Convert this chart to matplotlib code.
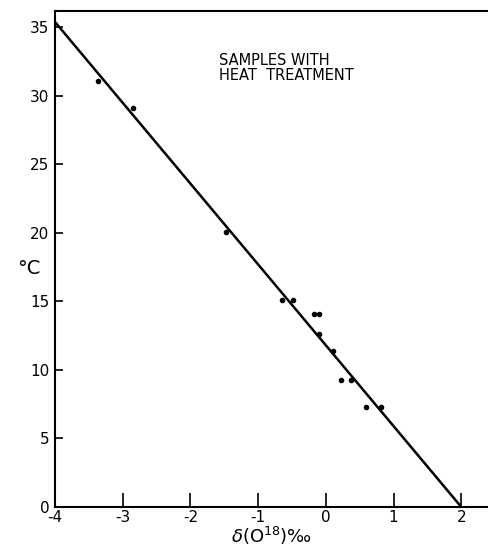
import matplotlib
matplotlib.use('Agg')
import matplotlib.pyplot as plt

# data
d18o = [-3.36, -2.85, -1.47, -0.65, -0.49, -0.18, -0.10, -0.10, 0.10, 0.22, 0.37, 0.59, 0.82]
temp = [31.1, 29.1, 20.1, 15.1, 15.1, 14.05, 14.05, 12.6, 11.4, 9.3, 9.3, 7.3, 7.3]

# fitted line end points
fit_x = [-4.0, 2.0]
fit_y = [35.4, 0.0]

x_ticks = [-4, -3, -2, -1, 0, 1, 2]
y_ticks = [0, 5, 10, 15, 20, 25, 30, 35]

plt.rcParams['axes.unicode_minus'] = False

fig = plt.figure(figsize=(4.89, 5.51), dpi=100)
ax = fig.add_axes([0.1125, 0.08, 0.8875, 0.9])

ax.plot(fit_x, fit_y, color='black', linewidth=1.8)
ax.plot(d18o, temp, 'o', color='black', markersize=3)

ax.set_xlim(-4, 2.41)
ax.set_ylim(0, 36.2)
ax.set_xticks(x_ticks)
ax.set_yticks(y_ticks)
ax.tick_params(axis='x', direction='in', length=10, width=1.2, labelsize=11, pad=2)
ax.tick_params(axis='y', direction='in', length=6, width=1.2, labelsize=11, pad=4)
for side in ['left', 'bottom', 'top']:
    ax.spines[side].set_linewidth(1.5)
ax.spines['right'].set_visible(False)

ax.set_xlabel(r'$\delta$(O$^{18}$)‰', fontsize=13, labelpad=0)
ax.set_ylabel('°C', fontsize=14, rotation=0, va='center', ha='center')
ax.yaxis.set_label_coords(-0.06, 0.48)

ax.text(-1.58, 33.1, 'SAMPLES WITH\nHEAT  TREATMENT', fontsize=10.5,
        va='top', ha='left', linespacing=1.0)

plt.savefig('out.png', dpi=100)
